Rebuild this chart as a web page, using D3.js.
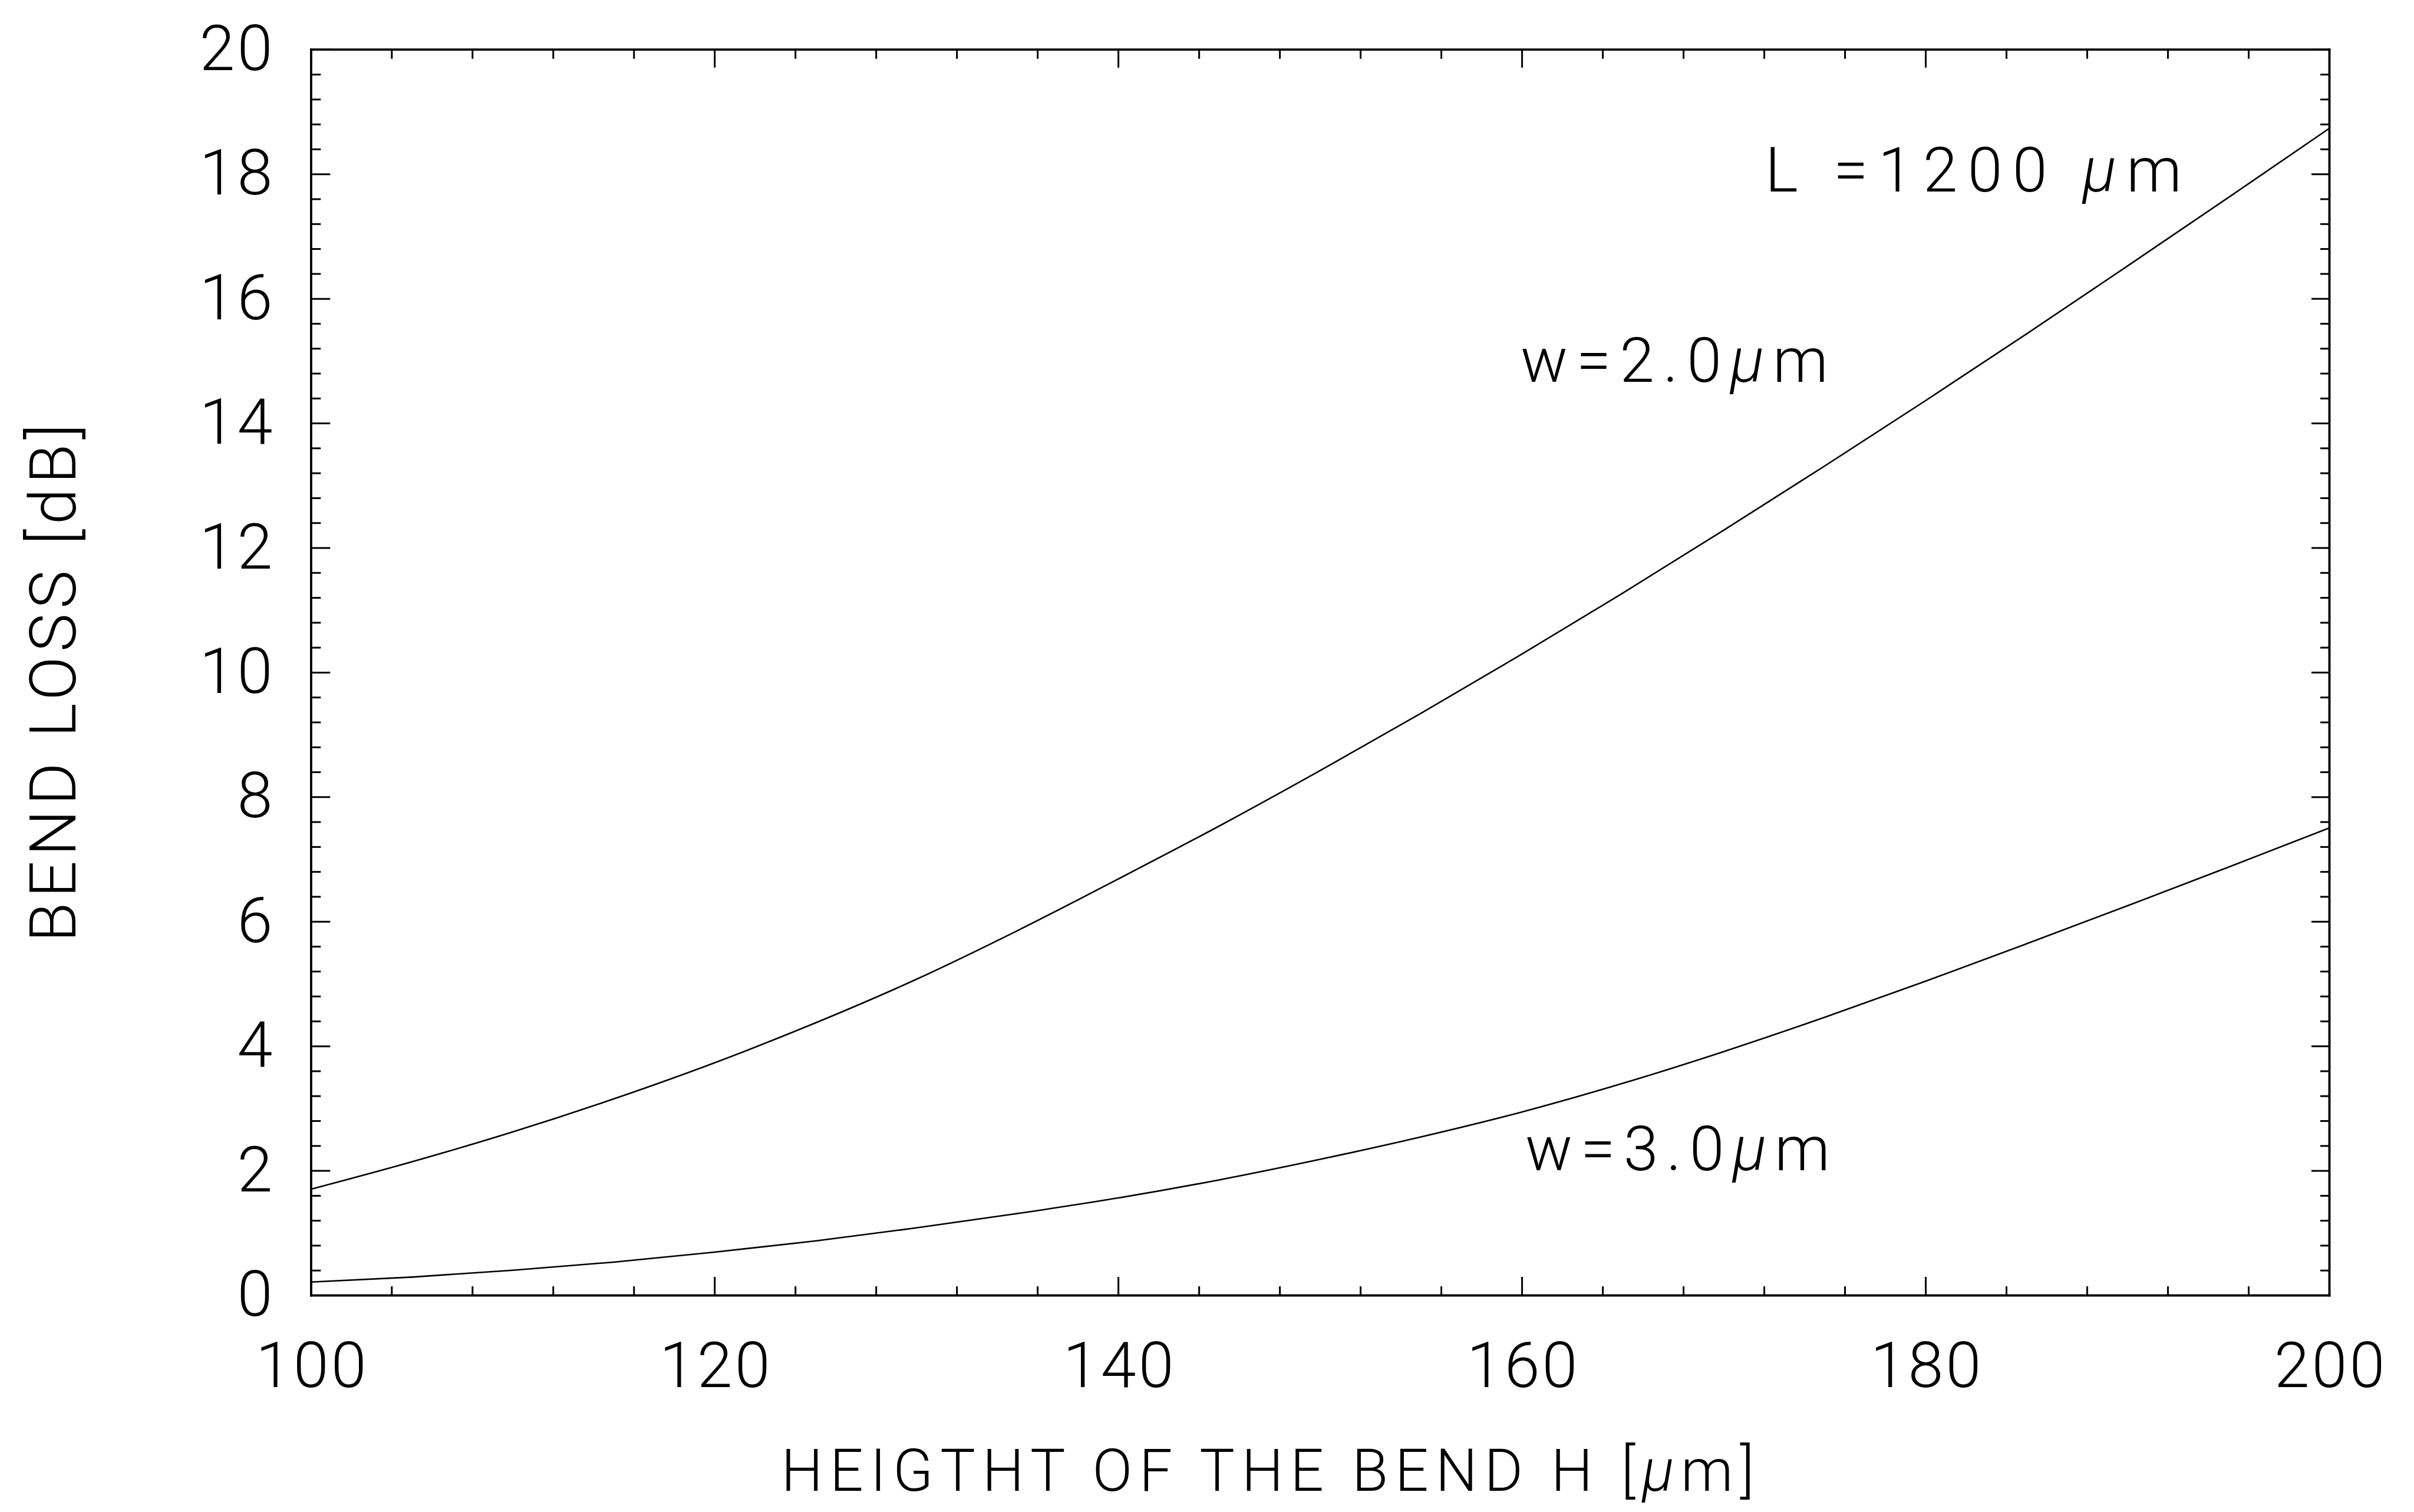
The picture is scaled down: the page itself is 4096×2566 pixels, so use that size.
<!DOCTYPE html>
<html><head><meta charset="utf-8">
<script src="https://cdn.jsdelivr.net/npm/d3@7"></script>
<style>html,body{margin:0;padding:0;background:#fff;} svg{display:block;}</style>
</head><body>
<svg id="c" width="4096" height="2566"></svg>
<script>
// ---- data ----
const heights = [100,105,110,115,120,125,130,135,140,145,150,155,160,165,170,175,180,185,190,195,200];
const lossW2 = [1.70,2.14,2.62,3.15,3.73,4.37,5.07,5.85,6.68,7.53,8.42,9.34,10.29,11.27,12.28,13.31,14.36,15.43,16.52,17.62,18.73];
const lossW3 = [0.21,0.29,0.40,0.53,0.69,0.87,1.08,1.31,1.56,1.85,2.18,2.54,2.94,3.40,3.91,4.46,5.04,5.64,6.25,6.87,7.50];
const xTicks = [100,120,140,160,180,200];
const yTicks = [0,2,4,6,8,10,12,14,16,18,20];
const xTitle = [["HEIGTHT OF THE BEND H [",false],["\u03bc",true],["m]",false]];
const yTitle = "BEND LOSS [dB]";
const notes = [
  {parts:[["L =1200 ",false],["\u03bc",true],["m",false]], x:2995, y:325, len:707},
  {parts:[["w=2.0",false],["\u03bc",true],["m",false]], x:2580, y:648, len:522},
  {parts:[["w=3.0",false],["\u03bc",true],["m",false]], x:2588, y:1986, len:517}
];

// ---- layout ----
const L = 527.3, R = 3952, T = 83.8, B = 2198;
const FONT = "Roboto, 'Liberation Sans', sans-serif";
const svg = d3.select("#c");
svg.append("rect").attr("width",4096).attr("height",2566).attr("fill","#fff");

const x = d3.scaleLinear().domain([100,200]).range([L,R]);
const y = d3.scaleLinear().domain([0,20]).range([B,T]);

const xMinor = d3.range(100,200.001,4).filter(v => v % 20 !== 0);
const yMinor = d3.range(0,51).map(i => Math.round(i*4)/10).filter(v => Math.abs(v/2 - Math.round(v/2)) > 1e-6);

function style(g){
  g.attr("font-family", FONT).attr("font-size", 108).attr("font-weight",300);
  g.selectAll("path.domain").attr("stroke","#000").attr("stroke-width",3.5).attr("stroke-linecap","square");
  g.selectAll(".tick line").attr("stroke","#000").attr("stroke-width",3);
  g.selectAll(".tick text").attr("fill","#000").attr("letter-spacing", 4);
}

// left
style(svg.append("g").attr("transform",`translate(${L},0)`)
  .call(d3.axisLeft(y).tickValues(yMinor).tickSizeInner(-17).tickSizeOuter(0).tickFormat("")));
style(svg.append("g").attr("transform",`translate(${L},0)`)
  .call(d3.axisLeft(y).tickValues(yTicks).tickSizeInner(-33).tickSizeOuter(0).tickPadding(61).tickFormat(d3.format("d"))));
// right
style(svg.append("g").attr("transform",`translate(${R},0)`)
  .call(d3.axisRight(y).tickValues(yMinor).tickSizeInner(-15).tickSizeOuter(0).tickFormat("")));
style(svg.append("g").attr("transform",`translate(${R},0)`)
  .call(d3.axisRight(y).tickValues(yTicks).tickSizeInner(-30).tickSizeOuter(0).tickFormat("")));
// bottom
style(svg.append("g").attr("transform",`translate(0,${B})`)
  .call(d3.axisBottom(x).tickValues(xMinor).tickSizeInner(-15).tickSizeOuter(0).tickFormat("")));
const gb = svg.append("g").attr("transform",`translate(0,${B})`)
  .call(d3.axisBottom(x).tickValues(xTicks).tickSizeInner(-31).tickSizeOuter(0).tickFormat(d3.format("d")));
style(gb);
gb.selectAll(".tick text").attr("y",156).attr("dy",0).attr("dx",2);
// top
style(svg.append("g").attr("transform",`translate(0,${T})`)
  .call(d3.axisTop(x).tickValues(xMinor).tickSizeInner(-16).tickSizeOuter(0).tickFormat("")));
style(svg.append("g").attr("transform",`translate(0,${T})`)
  .call(d3.axisTop(x).tickValues(xTicks).tickSizeInner(-31).tickSizeOuter(0).tickFormat("")));

// curves
const line = d3.line().x((d,i)=>x(heights[i])).y(d=>y(d)).curve(d3.curveMonotoneX);
[lossW2, lossW3].forEach(s => {
  svg.append("path").attr("d", line(s)).attr("fill","none").attr("stroke","#000").attr("stroke-width",2.6);
});

function richText(parent, parts){
  parts.forEach(([t,it]) => parent.append("tspan").attr("font-style", it ? "italic" : "normal").text(t));
}

// annotations
notes.forEach(n => {
  const t = svg.append("text").attr("x",n.x).attr("y",n.y)
    .attr("font-family",FONT).attr("font-size",106).attr("font-weight",300).attr("fill","#000")
    .attr("textLength",n.len).attr("lengthAdjust","spacing");
  richText(t, n.parts);
});

// axis titles
const xt = svg.append("text").attr("x",2151).attr("y",2530).attr("text-anchor","middle")
  .attr("font-family",FONT).attr("font-size",100).attr("font-weight",300).attr("fill","#000")
  .attr("textLength",1651).attr("lengthAdjust","spacing");
richText(xt, xTitle);

svg.append("text").attr("transform","translate(128,1159) rotate(-90)").attr("text-anchor","middle")
  .attr("font-family",FONT).attr("font-size",110).attr("font-weight",300).attr("fill","#000")
  .attr("textLength",880).attr("lengthAdjust","spacing")
  .text(yTitle);
</script>
</body></html>
